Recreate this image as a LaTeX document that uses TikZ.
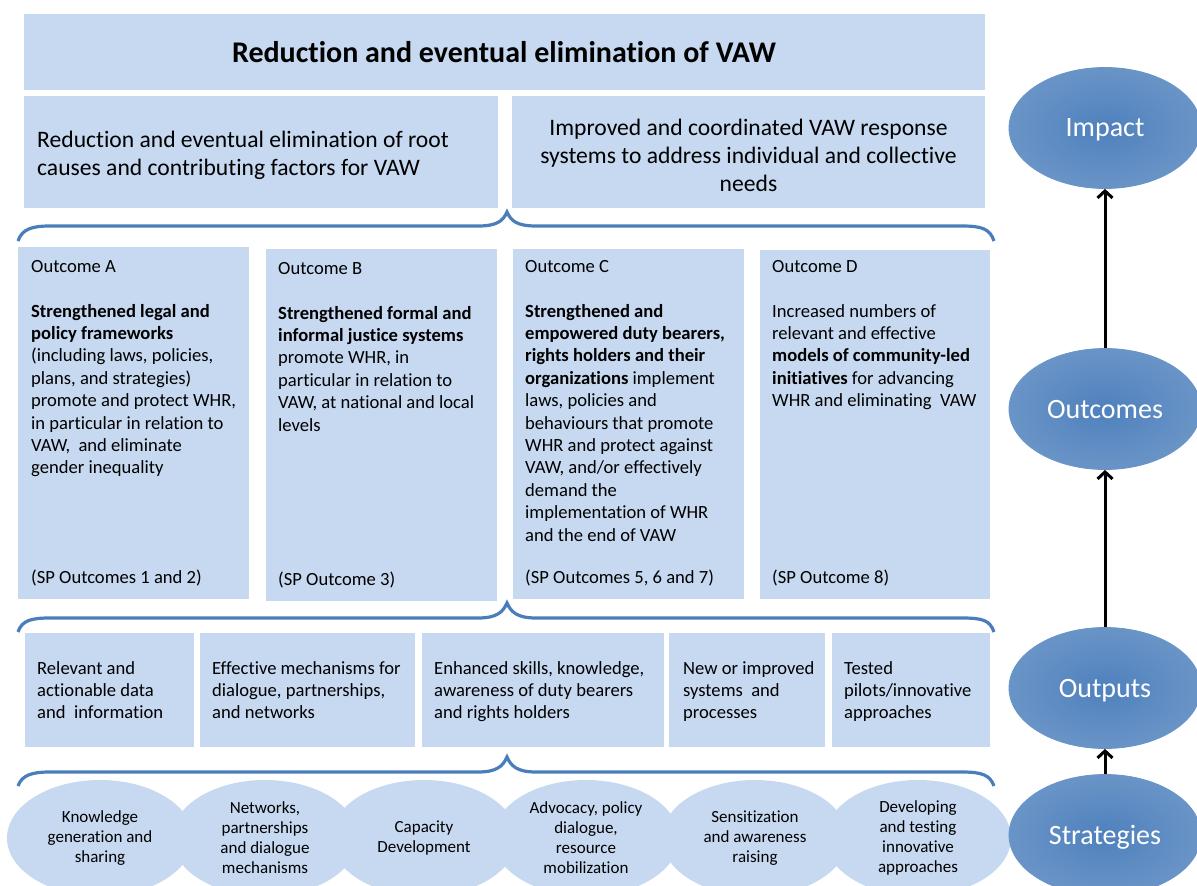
\documentclass[tikz,border=0pt]{standalone}
\usepackage{fontspec}
\setmainfont{Carlito}[Ligatures=NoCommon]
\usetikzlibrary{arrows.meta,shapes.geometric}
\definecolor{lb}{HTML}{C6D9F0}
\definecolor{db}{HTML}{4F81BD}
\definecolor{br}{HTML}{4A7EBB}
\begin{document}
\begin{tikzpicture}[x=1pt,y=-1pt,
  box/.style={fill=lb,draw=none,inner sep=0pt,outer sep=0pt,anchor=north west},
  otext/.style={anchor=north west,inner sep=0pt,align=left,font=\fontsize{18.6}{22.4}\selectfont},
  sptext/.style={anchor=west,inner sep=0pt,font=\fontsize{18.6}{22.4}\selectfont},
  stell/.style={ellipse,fill=lb,draw=none,minimum width=186pt,minimum height=116pt,inner sep=0pt,align=center,font=\fontsize{17}{20}\selectfont},
  lvell/.style={ellipse,inner color=db,outer color=db!85!white,draw=db!85!white,line width=0.8pt,minimum width=192pt,minimum height=121pt,inner sep=0pt,text=white,text depth=0pt,font=\fontsize{28}{30}\selectfont},
  bracepath/.style={draw=br,line width=3.2pt},
  uparrow/.style={draw=black,line width=3pt,-{Straight Barb[length=7pt,width=15pt]}}
]
\useasboundingbox (0,0) rectangle (1197,886);
\fill[white] (0,0) rectangle (1197,886);

% top boxes
\node[box,minimum width=961pt,minimum height=76pt] (title) at (24,14) {};
\node[font=\fontsize{30}{32}\selectfont\bfseries,inner sep=0pt] (titletxt) at (504,52) {Reduction and eventual elimination of VAW};
\node[box,minimum width=474pt,minimum height=112pt] (imp1) at (24,96) {};
\node[box,minimum width=473pt,minimum height=112pt] (imp2) at (512,96) {};
\node[anchor=west,inner sep=0pt,align=left,font=\fontsize{23.6}{28}\selectfont] (imp1t) at (37,155) {Reduction and eventual elimination of root\\causes and contributing factors for VAW};
\node[inner sep=0pt,align=center,font=\fontsize{23.6}{28}\selectfont] (imp2t) at (748.5,155) {Improved and coordinated VAW response\\systems to address individual and collective\\needs};

% brace 1
\draw[bracepath] (18,241) .. controls (22,229) and (32,226) .. (50,226) -- (478,226) .. controls (497,226) and (503,221) .. (507,212) .. controls (511,221) and (517,226) .. (536,226) -- (962,226) .. controls (982,226) and (990,229) .. (994,241);

% outcome boxes
\node[box,minimum width=231pt,minimum height=352pt] (oa) at (18,247) {};
\node[box,minimum width=231pt,minimum height=352pt] (ob) at (266,249) {};
\node[box,minimum width=231pt,minimum height=350pt] (oc) at (513,249) {};
\node[box,minimum width=230pt,minimum height=349pt] (od) at (760,250) {};

\node[otext] (oat) at (31,260) {Outcome A\\[22.4pt]\textbf{Strengthened legal and}\\\textbf{policy frameworks}\\(including laws, policies,\\plans, and strategies)\\promote and protect WHR,\\in particular in relation to\\VAW,\ \ and eliminate\\gender inequality};
\node[otext] (obt) at (278,262) {Outcome B\\[22.4pt]\textbf{Strengthened formal and}\\\textbf{informal justice systems}\\promote WHR, in\\particular in relation to\\VAW, at national and local\\levels};
\node[otext] (oct) at (525,260) {Outcome C\\[22.4pt]\textbf{Strengthened and}\\\textbf{empowered duty bearers,}\\\textbf{rights holders and their}\\\textbf{organizations} implement\\laws, policies and\\behaviours that promote\\WHR and protect against\\VAW, and/or effectively\\demand the\\implementation of WHR\\and the end of VAW};
\node[otext] (odt) at (772,260) {Outcome D\\[22.4pt]Increased numbers of\\relevant and effective\\\textbf{models of community-led}\\\textbf{initiatives} for advancing\\WHR and eliminating\ \ VAW};

\node[sptext] (oas) at (31,578) {(SP Outcomes 1 and 2)};
\node[sptext] (obs) at (278,580) {(SP Outcome 3)};
\node[sptext] (ocs) at (525,578) {(SP Outcomes 5, 6 and 7)};
\node[sptext] (ods) at (772,578) {(SP Outcome 8)};

% brace 2
\draw[bracepath] (18,632) .. controls (22,620) and (32,618) .. (50,618) -- (478,618) .. controls (497,618) and (503,612) .. (507,603) .. controls (511,612) and (517,618) .. (536,618) -- (962,618) .. controls (982,618) and (990,620) .. (994,632);

% output boxes
\node[box,minimum width=169pt,minimum height=114pt] (p1) at (25,633) {};
\node[box,minimum width=215pt,minimum height=114pt] (p2) at (200,633) {};
\node[box,minimum width=242pt,minimum height=114pt] (p3) at (422,633) {};
\node[box,minimum width=156pt,minimum height=114pt] (p4) at (669,633) {};
\node[box,minimum width=158pt,minimum height=114pt] (p5) at (832,633) {};
\node[otext] (p1t) at (37,661) {Relevant and\\actionable data\\and\ \ information};
\node[otext] (p2t) at (212,661) {Effective mechanisms for\\dialogue, partnerships,\\and networks};
\node[otext] (p3t) at (434,661) {Enhanced skills, knowledge,\\awareness of duty bearers\\and rights holders};
\node[otext] (p4t) at (683,661) {New or improved\\systems\ \ and\\processes};
\node[otext] (p5t) at (844,661) {Tested\\pilots/innovative\\approaches};

% brace 3
\draw[bracepath] (18,786) .. controls (22,775) and (32,772) .. (50,772) -- (478,772) .. controls (497,772) and (503,766) .. (507,757) .. controls (511,766) and (517,772) .. (536,772) -- (962,772) .. controls (982,772) and (990,775) .. (994,786);

% strategy ellipses
\node[stell] (s1) at (100,838) {Knowledge\\generation and\\sharing};
\node[stell] (s2) at (265,838) {Networks,\\partnerships\\and dialogue\\mechanisms};
\node[stell] (s3) at (424,838) {Capacity\\Development};
\node[stell] (s4) at (586,838) {Advocacy, policy\\dialogue,\\resource\\mobilization};
\node[stell] (s5) at (755,838) {Sensitization\\and awareness\\raising};
\node[stell] (s6) at (918,838) {Developing\\and testing\\innovative\\approaches};

% level ellipses
\node[lvell] (impact) at (1105,128) {Impact};
\node[lvell] (outcomes) at (1105,409) {Outcomes};
\node[lvell] (outputs) at (1105,688) {Outputs};
\node[lvell] (strategies) at (1105,835) {Strategies};

\draw[uparrow] (outcomes.north) -- (impact.south);
\draw[uparrow] (outputs.north) -- (outcomes.south);
\draw[uparrow] (strategies.north) -- (outputs.south);
\end{tikzpicture}
\end{document}
